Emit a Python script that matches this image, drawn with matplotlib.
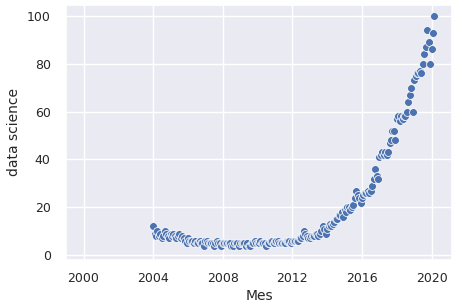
import matplotlib
matplotlib.use("Agg")
import matplotlib.pyplot as plt
import matplotlib.dates as mdates
import seaborn as sns
import pandas as pd
import numpy as np

start_month = "2004-01-01"
values_2004 = [12, 9, 8, 10, 8, 9, 7, 8, 10, 9, 8, 7]
values_2005 = [9, 8, 9, 8, 7, 8, 9, 7, 8, 7, 6, 5]
values_2006 = [7, 6, 6, 6, 5, 6, 5, 5, 6, 5, 5, 4]
values_2007 = [6, 6, 5, 5, 5, 5, 4, 5, 6, 5, 5, 4]
values_2008 = [5, 5, 5, 5, 5, 5, 4, 4, 5, 5, 5, 4]
values_2009 = [5, 5, 5, 5, 4, 5, 4, 4, 5, 5, 6, 5]
values_2010 = [5, 5, 6, 5, 5, 5, 4, 5, 5, 6, 6, 5]
values_2011 = [6, 6, 6, 5, 5, 5, 5, 5, 6, 6, 6, 5]
values_2012 = [6, 6, 6, 6, 6, 7, 7, 8, 10, 9, 8, 7]
values_2013 = [7, 8, 8, 8, 9, 9, 8, 9, 10, 12, 11, 9]
values_2014 = [11, 12, 13, 12, 13, 14, 15, 15, 17, 17, 18, 16]
values_2015 = [19, 18, 20, 20, 19, 20, 21, 24, 27, 25, 24, 22]
values_2016 = [24, 25, 26, 26, 27, 26, 27, 29, 32, 36, 33, 32]
values_2017 = [41, 42, 43, 42, 43, 42, 43, 47, 48, 52, 52, 48]
values_2018 = [57, 58, 56, 58, 57, 58, 58, 60, 64, 67, 70, 60]
values_2019 = [73, 75, 76, 76, 77, 76, 80, 84, 87, 94, 89, 80]
values_2020 = [86, 93, 100]

values = (values_2004 + values_2005 + values_2006 + values_2007 + values_2008
          + values_2009 + values_2010 + values_2011 + values_2012 + values_2013
          + values_2014 + values_2015 + values_2016 + values_2017 + values_2018
          + values_2019 + values_2020)
dates = pd.date_range(start_month, periods=len(values), freq="MS")
df = pd.DataFrame({"Mes": dates, "data science": values})

sns.set_theme(style="darkgrid")
plt.rcParams["font.family"] = ["DejaVu Sans"]

W, H = 473, 308
fig = plt.figure(figsize=(W / 100, H / 100), dpi=100)
ax = fig.add_axes([66 / W, 1 - 260 / H, (452 - 66) / W, (260 - 5) / H])

sns.scatterplot(data=df, x="Mes", y="data science", ax=ax, s=32,
                color="#4c72b0", edgecolor="white", linewidth=0.55)

lo = mdates.date2num(pd.Timestamp("2000-01-01"))
hi = mdates.date2num(dates[-1])
m = 0.05 * (hi - lo)
ax.set_xlim(lo - m, hi + m)
ax.set_ylim(-2, 104.5)
ax.set_yticks([0, 20, 40, 60, 80, 100])
ax.xaxis.set_major_locator(mdates.YearLocator(4))
ax.xaxis.set_major_formatter(mdates.DateFormatter("%Y"))

ax.tick_params(axis="y", length=0, pad=11, labelsize=9, labelcolor="#262626")
ax.tick_params(axis="x", length=0, pad=8.5, labelsize=9, labelcolor="#262626")
ax.set_xlabel("Mes", fontsize=10, color="#262626", labelpad=3)
ax.set_ylabel("data science", fontsize=10, color="#262626", labelpad=4)

fig.savefig("out.png", dpi=100)
